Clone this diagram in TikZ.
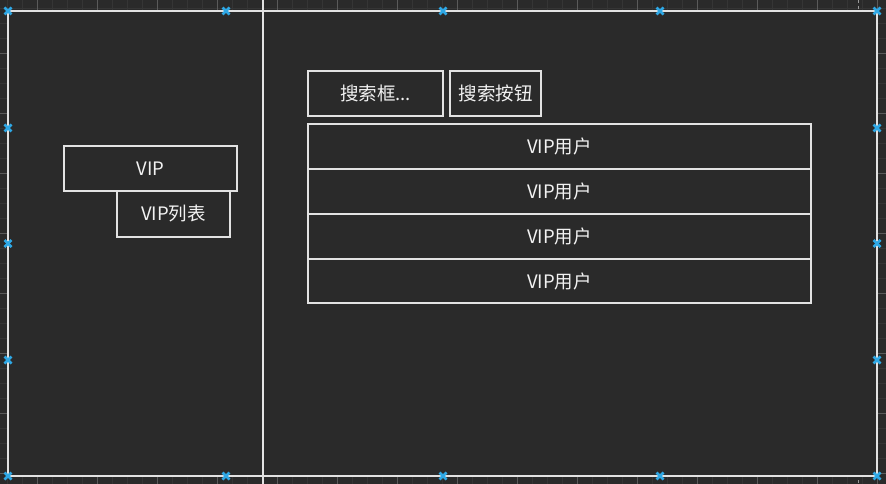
\documentclass[tikz,border=0pt]{standalone}
\usepackage{fontspec}
\setmainfont{Noto Sans CJK SC}
\begin{document}
\begin{tikzpicture}[x=1pt,y=-1pt,
  minorgrid/.style={draw=gridminor,line width=0.8pt},
  majorgrid/.style={draw=gridmajor,line width=0.8pt},
  wbox/.style={draw=boxline,line width=1.2pt,fill=bg,rectangle,inner sep=0pt,
    text=textc,font=\fontsize{18.5}{20}\selectfont},
  handle/.style={draw=handlec,line width=2.6pt},
]
\definecolor{bg}{HTML}{2A2A2A}
\definecolor{gridminor}{HTML}{353535}
\definecolor{gridmajor}{HTML}{5A5A5A}
\definecolor{boxline}{HTML}{E2E2E2}
\definecolor{textc}{HTML}{F2F2F2}
\definecolor{handlec}{HTML}{2EA8E6}
\definecolor{guide}{HTML}{9A9A9A}
\useasboundingbox (0,0) rectangle (886,484);
\fill[bg] (0,0) rectangle (886,484);
% grid
\foreach \x in {7,22,...,885} \draw[minorgrid] (\x,0) -- (\x,484);
\foreach \y in {8.5,23.5,...,484} \draw[minorgrid] (0,\y) -- (886,\y);
\foreach \x in {37,97,...,885} \draw[majorgrid] (\x,0) -- (\x,484);
\foreach \y in {53.5,113.5,...,484} \draw[majorgrid] (0,\y) -- (886,\y);
\draw[guide,dashed,line width=1pt] (858,0) -- (858,484);
% frame
\node[draw=boxline,line width=1.5pt,fill=bg,rectangle,inner sep=0pt,
  minimum width=869pt,minimum height=465pt] (frame) at (442.5,243.5) {};
\coordinate (dtop) at (263,0);
\coordinate (dbot) at (263,484);
\draw[draw=boxline,line width=1.2pt] (dtop) -- (dbot);
% left panel
\node[wbox,minimum width=173pt,minimum height=45pt] (vip) at (150.5,168.5) {VIP};
\node[wbox,minimum width=113pt,minimum height=46pt] (viplist) at (173.5,214) {VIP列表};
% right panel
\node[wbox,minimum width=135pt,minimum height=45pt] (search) at (375.5,93.5) {搜索框...};
\node[wbox,minimum width=91pt,minimum height=45pt] (btn) at (495.5,93.5) {搜索按钮};
\node[wbox,minimum width=503pt,minimum height=45pt] (r1) at (559.5,146.5) {VIP用户};
\node[wbox,minimum width=503pt,minimum height=45pt] (r2) at (559.5,191.5) {VIP用户};
\node[wbox,minimum width=503pt,minimum height=45pt] (r3) at (559.5,236.5) {VIP用户};
\node[wbox,minimum width=503pt,minimum height=44pt] (r4) at (559.5,281) {VIP用户};
% selection handles
\foreach \p in {(8,11),(226,11),(443,11),(660,11),(877,11),
                (8,476),(226,476),(443,476),(660,476),(877,476),
                (8,128),(8,243.5),(8,360),(877,128),(877,243.5),(877,360)}{
  \draw[handle] \p ++(-3.5,-3.5) -- ++(7,7);
  \draw[handle] \p ++(-3.5,3.5) -- ++(7,-7);
}
\end{tikzpicture}
\end{document}
